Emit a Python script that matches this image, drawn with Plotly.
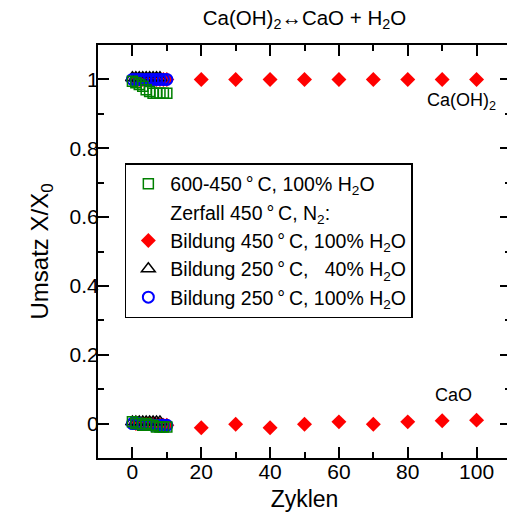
import plotly.graph_objects as go

# ---- data ----
red_x = [1, 2, 3, 4, 5, 6, 7, 8, 9, 10, 20, 30, 40, 50, 60, 70, 80, 90, 100]
red_y_top = [1.0] * 19
red_y_bot = [0.0, 0.0, 0.0, 0.0, 0.0, 0.0, -0.003, -0.003, -0.005, -0.005,
             -0.012, -0.002, -0.012, -0.002, 0.005, -0.002, 0.005, 0.008, 0.01]

tri_x = [0, 1, 2, 3, 4, 5, 6, 7, 8]
tri_y_top = [1.005, 1.005, 1.005, 1.005, 1.005, 1.005, 1.005, 1.005, 1.005]
tri_y_bot = [0.005, 0.005, 0.005, 0.005, 0.005, 0.005, 0.005, 0.005, 0.005]

blue_x = [0, 1, 2, 3, 4, 5, 6, 7, 8, 9, 10]
blue_y_top = [1.0, 1.0, 1.0, 1.0, 1.0, 1.0, 1.0, 1.0, 1.0, 1.0, 1.0]
blue_y_bot = [0.0, 0.0, 0.0, -0.003, -0.003, -0.003, -0.005, -0.005, -0.005, -0.005, -0.005]

green_x = [0, 1, 2, 3, 4, 5, 6, 7, 8, 9, 10]
green_y_top = [0.995, 0.99, 0.985, 0.98, 0.97, 0.965, 0.96, 0.96, 0.96, 0.96, 0.96]
green_y_bot = [0.005, 0.0, 0.0, -0.005, 0.0, -0.005, -0.005, -0.01, -0.01, -0.01, -0.01]

DEG = "\u2009°\u2009C"
legend_labels = [
    "600-450" + DEG + ", 100% H<sub>2</sub>O",
    "Zerfall 450" + DEG + ", N<sub>2</sub>:",
    "Bildung 450" + DEG + ", 100% H<sub>2</sub>O",
    "Bildung 250" + DEG + ", \u00a0\u00a040% H<sub>2</sub>O",
    "Bildung 250" + DEG + ", 100% H<sub>2</sub>O",
]

x_ticks = [0, 20, 40, 60, 80, 100]
y_ticks = [0, 0.2, 0.4, 0.6, 0.8, 1]
y_ticklabels = ["0", "0.2", "0.4", "0.6", "0.8", "1"]

FONT = "Liberation Sans, Arial, sans-serif"

fig = go.Figure()

fig.add_trace(go.Scatter(
    x=red_x + red_x, y=red_y_top + red_y_bot, mode="markers",
    marker=dict(symbol="diamond", size=11.5, color="#ff0000", line=dict(width=0)),
    name=legend_labels[2], legendrank=3, legendgroup="r"))
fig.add_trace(go.Scatter(
    x=tri_x + tri_x, y=tri_y_top + tri_y_bot, mode="markers",
    marker=dict(symbol="triangle-up-open", size=12, color="black", line=dict(width=1.5, color="black")),
    name=legend_labels[3], legendrank=4, legendgroup="t"))
fig.add_trace(go.Scatter(
    x=blue_x + blue_x, y=blue_y_top + blue_y_bot, mode="markers",
    marker=dict(symbol="circle-open", size=11, color="#0000ff", line=dict(width=2, color="#0000ff")),
    name=legend_labels[4], legendrank=5, legendgroup="b"))
fig.add_trace(go.Scatter(
    x=green_x + green_x, y=green_y_top + green_y_bot, mode="markers",
    marker=dict(symbol="square-open", size=10, color="#008000", line=dict(width=1.5, color="#008000")),
    name=legend_labels[0], legendrank=1, legendgroup="g"))
fig.add_trace(go.Scatter(
    x=[None], y=[None], mode="markers",
    marker=dict(size=1, color="rgba(0,0,0,0)"),
    name=legend_labels[1], legendrank=2, legendgroup="h"))

fig.add_annotation(x=95.6, y=0.937, text="Ca(OH)<sub>2</sub>", showarrow=False,
                   font=dict(size=18, color="black", family=FONT))
fig.add_annotation(x=93.3, y=0.083, text="CaO", showarrow=False,
                   font=dict(size=18, color="black", family=FONT))

axis_common = dict(showline=True, linewidth=2, linecolor="black", mirror="allticks",
                   ticks="inside", ticklen=11, tickwidth=1.5, tickcolor="black",
                   showgrid=False, zeroline=False,
                   tickfont=dict(size=21, color="black", family=FONT))

fig.update_xaxes(range=[-10, 110], tickvals=x_ticks, ticklabelstandoff=-6,
                 minor=dict(dtick=10, ticks="inside", ticklen=6, tickwidth=1.5, tickcolor="black", showgrid=False),
                 title=dict(text="Zyklen", font=dict(size=23, color="black", family=FONT), standoff=10),
                 **axis_common)
fig.update_yaxes(range=[-0.1, 1.1], tickvals=y_ticks, ticktext=y_ticklabels, ticklabelstandoff=-7,
                 minor=dict(dtick=0.1, ticks="inside", ticklen=6, tickwidth=1.5, tickcolor="black", showgrid=False),
                 title=dict(text="Umsatz X/X<sub>0</sub>", font=dict(size=24, color="black", family=FONT), standoff=14),
                 **axis_common)

fig.update_layout(
    width=515, height=512,
    margin=dict(l=98, r=2, t=45, b=54),
    paper_bgcolor="white", plot_bgcolor="white",
    font=dict(family=FONT, color="black"),
    title=dict(text="Ca(OH)<sub>2</sub>\u2194CaO + H<sub>2</sub>O", x=0.5, xref="paper",
               y=1 - 18 / 512, yanchor="middle", font=dict(size=20.5, color="black", family=FONT)),
    showlegend=True,
    legend=dict(x=0.065, y=0.714, xanchor="left", yanchor="top",
                bordercolor="black", borderwidth=1.5, bgcolor="white",
                font=dict(size=19.5, color="black", family=FONT),
                itemsizing="trace", tracegroupgap=0, itemwidth=34),
)

fig.write_html("out.html", config={"displayModeBar": False},
               post_script="document.body.style.margin='0';document.body.style.overflow='hidden';document.documentElement.style.overflow='hidden';")
